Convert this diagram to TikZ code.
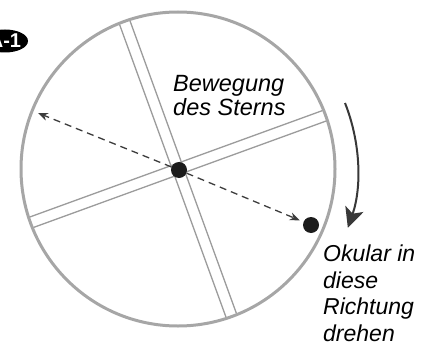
\documentclass[tikz,border=0pt]{standalone}
\usepackage{fontspec}
\setmainfont{Liberation Sans}
\usetikzlibrary{arrows.meta,shapes.geometric}
\definecolor{ringgray}{HTML}{A6A6A6}
\definecolor{hairgray}{HTML}{9C9C9C}
\definecolor{dashgray}{HTML}{3C3C3C}
\definecolor{dotblack}{HTML}{1C1C1C}
\definecolor{turngray}{HTML}{383838}
\tikzset{
  ring/.style={draw=ringgray, line width=3pt},
  hair/.style={draw=hairgray, line width=1.3pt},
  dot/.style={circle, fill=dotblack, minimum size=16pt, inner sep=0pt},
  dasharrow/.style={draw=dashgray, line width=1.3pt, dash pattern=on 7pt off 5pt, -{Stealth[length=10pt,width=8pt]}},
  turn/.style={draw=turngray, line width=2pt, -{Stealth[length=20pt,width=19pt,inset=5pt]}},
  lbl/.style={font=\itshape\fontsize{23.5}{24}\selectfont, align=left, inner sep=0pt},
  lblb/.style={font=\itshape\fontsize{23}{26.5}\selectfont, align=left, inner sep=0pt},
  badge/.style={ellipse, fill=black, minimum width=46pt, minimum height=23pt, inner sep=0pt, text=white, font=\bfseries\fontsize{20}{20}\selectfont}
}
\begin{document}
\begin{tikzpicture}[x=1pt,y=-1pt]
\useasboundingbox (0,0) rectangle (433,345);
\fill[white] (0,0) rectangle (433,345);
\coordinate (c) at (178,169);
\begin{scope}
  \clip (c) circle[radius=156];
  \draw[hair] (118.1,20.5) -- (227.5,321.3);
  \draw[hair] (128.5,16.7) -- (237.9,317.5);
  \draw[hair] (29.5,228.9) -- (330.3,119.5);
  \draw[hair] (25.7,218.5) -- (326.5,109.1);
\end{scope}
\draw[ring] (c) circle[radius=157];
\node[dot] (star) at (179,170) {};
\node[dot] (star2) at (311,225) {};
\coordinate (tipL) at (38,113);
\draw[dasharrow] (star) -- (tipL);
\draw[dasharrow, shorten >=4pt] (star) -- (star2);
\coordinate (rs) at (345,103);
\draw[turn] (rs) arc[start angle=-21.6, end angle=19, radius=180];
\node[lbl, anchor=base west] (mv) at (173,115) {Bewegung\\des Sterns};
\node[lblb, anchor=base west] (ok) at (323,341) {Okular in\\diese\\Richtung\\drehen};
\node[badge] (b) at (5,41) {A-1};
\end{tikzpicture}
\end{document}
